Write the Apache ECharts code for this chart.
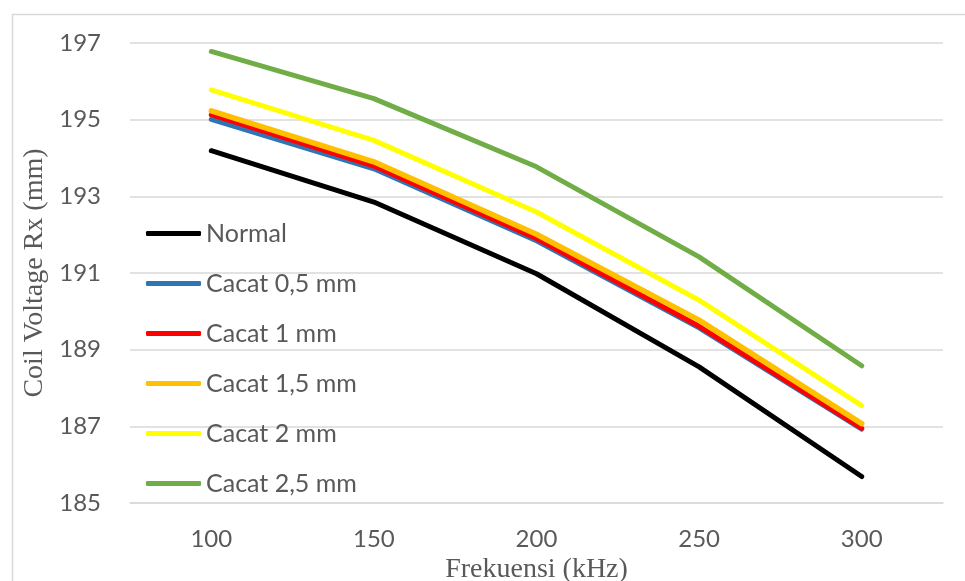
<!DOCTYPE html>
<html>
<head>
<meta charset="utf-8">
<script src="https://cdn.jsdelivr.net/npm/echarts@6/dist/echarts.min.js"></script>
<style>html,body{margin:0;padding:0;background:#fff}#c{width:965px;height:581px}</style>
</head>
<body>
<div id="c"></div>
<script>
var categories = ['100', '150', '200', '250', '300'];
var seriesNames = ['Normal', 'Cacat 0,5 mm', 'Cacat 1 mm', 'Cacat 1,5 mm', 'Cacat 2 mm', 'Cacat 2,5 mm'];
var normal   = [194.19, 192.85, 190.98, 188.55, 185.69];
var cacat05  = [195.01, 193.72, 191.84, 189.57, 186.93];
var cacat1   = [195.13, 193.79, 191.90, 189.61, 186.95];
var cacat15  = [195.23, 193.90, 192.01, 189.77, 187.07];
var cacat2   = [195.78, 194.46, 192.59, 190.29, 187.54];
var cacat25  = [196.78, 195.55, 193.77, 191.42, 188.58];
var yMin = 185, yMax = 197;

var dataSets = [normal, cacat05, cacat1, cacat15, cacat2, cacat25];
var colors = ['#000000', '#2E75B6', '#FF0000', '#FFC000', '#FFFF00', '#70AD47'];
var widths = [5, 5, 5, 5.5, 5, 5];

var chart = echarts.init(document.getElementById('c'), null, {renderer: 'canvas'});
chart.setOption({
  animation: false,
  backgroundColor: '#ffffff',
  graphic: [{
    type: 'rect', left: 10, top: 12, z: -10,
    shape: {width: 1000, height: 1000},
    style: {fill: 'none', stroke: '#d9d9d9', lineWidth: 1.5}
  }],
  grid: {left: 130, right: 22, top: 43, bottom: 78, containLabel: false, outerBoundsMode: 'none'},
  legend: {
    orient: 'vertical', left: 141, top: 216,
    itemWidth: 55, itemHeight: 5, itemGap: 25,
    icon: 'roundRect',
    data: seriesNames,
    textStyle: {fontFamily: 'Lato', fontSize: 25, color: '#595959', lineHeight: 25}
  },
  xAxis: {
    type: 'category', data: categories, boundaryGap: true,
    name: 'Frekuensi (kHz)', nameLocation: 'middle', nameGap: 53,
    nameTextStyle: {fontFamily: 'Liberation Serif', fontSize: 28, color: '#595959'},
    axisLine: {show: true, lineStyle: {color: '#d9d9d9', width: 1.5}},
    axisTick: {show: false},
    axisLabel: {fontFamily: 'Lato', fontSize: 24, color: '#595959', margin: 24}
  },
  yAxis: {
    type: 'value', min: yMin, max: yMax, interval: 1,
    name: 'Coil Voltage Rx (mm)', nameLocation: 'middle', nameGap: 57, nameRotate: 90,
    nameTextStyle: {fontFamily: 'Liberation Serif', fontSize: 28, color: '#595959'},
    axisLine: {show: false}, axisTick: {show: false},
    axisLabel: {
      fontFamily: 'Lato', fontSize: 24, color: '#595959', margin: 29,
      formatter: function (v) { return (Math.round(v) - yMin) % 2 === 0 ? String(v) : ''; }
    },
    splitLine: {show: true, lineStyle: {color: ['#d9d9d9', 'rgba(0,0,0,0)'], width: 1.5}}
  },
  series: seriesNames.map(function (n, i) {
    return {
      name: n, type: 'line', data: dataSets[i], symbol: 'none',
      color: colors[i],
      lineStyle: {color: colors[i], width: widths[i], cap: 'round', join: 'round'},
      itemStyle: {color: colors[i]}
    };
  })
});
</script>
</body>
</html>
